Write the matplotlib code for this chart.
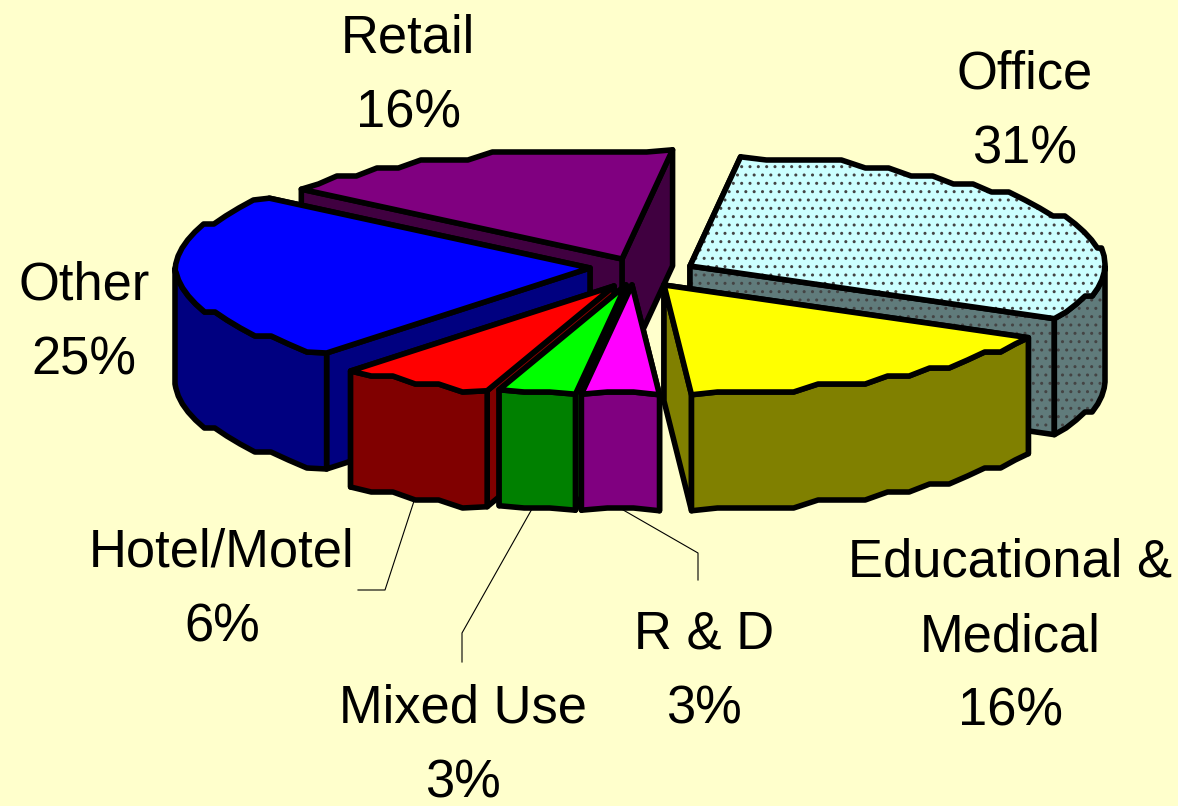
import numpy as np
import matplotlib
matplotlib.use("Agg")
import matplotlib.pyplot as plt
from matplotlib.patches import Polygon

plt.rcParams['font.family'] = ['Liberation Sans', 'DejaVu Sans']
plt.rcParams['hatch.linewidth'] = 1.0

## Chart data, clockwise from the Office slice
categories = ['Office', 'Educational &\nMedical', 'R & D', 'Mixed Use', 'Hotel/Motel', 'Other', 'Retail']
shares = [31, 16, 3, 3, 6, 25, 16]

## Styles
top_colors = ['#CCFFFF', '#FFFF00', '#FF00FF', '#00FF00', '#FF0000', '#0000FF', '#800080']
side_colors = ['#607B7B', '#808000', '#800080', '#008000', '#800000', '#000080', '#400040']
apex_x = [690, 664, 632, 626, 614, 590, 622]
apex_y = [266, 285, 285, 285, 286, 268, 259]
label_x = [1025, 1010, 704, 463, 222, 84, 408]
label_y = [112, 637, 672, 746, 590, 323, 76]
draw_order = [6, 0, 5, 1, 4, 3, 2]

rx, ry, depth = 415, 110, 116
start_angle = 7.0
background = '#FFFFCC'
edge_w = 4.0


def arc_points(cx, cy, a1, a2):
    # outline of the rim, y snapped to a coarse grid to get the stepped look
    n = max(2, int((a2 - a1) / 3.5) + 1)
    t = np.radians(np.linspace(a1, a2, n))
    x = cx + rx * np.sin(t)
    y = cy - ry * np.cos(t)
    y[1:-1] = np.round(y[1:-1] / 8) * 8
    return np.column_stack([x, y])


def draw_shape(ax, pts, color, dotted):
    ax.add_patch(Polygon(pts, closed=True, facecolor=color, edgecolor='none', zorder=ax.z))
    ax.z += 1
    if dotted:
        ax.add_patch(Polygon(pts, closed=True, facecolor='none', edgecolor='#444444',
                             hatch='..', linewidth=0, zorder=ax.z))
        ax.z += 1
    ax.add_patch(Polygon(pts, closed=True, facecolor='none', edgecolor='black',
                         linewidth=edge_w, joinstyle='round', zorder=ax.z))
    ax.z += 1


fig = plt.figure(figsize=(11.78, 8.06), dpi=100, facecolor=background)
ax = fig.add_axes([0, 0, 1, 1])
ax.set_xlim(0, 1178)
ax.set_ylim(806, 0)
ax.axis('off')
ax.z = 3

## slice angles from the shares
sweep = np.array(shares) / sum(shares) * 360
ends = start_angle + np.cumsum(sweep)
starts = ends - sweep

## leader lines
ax.plot([415, 385, 358], [498, 590, 590], color='black', lw=0.8, zorder=2)
ax.plot([537, 462, 462], [500, 633, 662], color='black', lw=0.8, zorder=2)
ax.plot([618, 698, 698], [507, 553, 580], color='black', lw=0.8, zorder=2)

for i in draw_order:
    cx, cy = apex_x[i], apex_y[i]
    a1, a2 = starts[i], ends[i]
    dotted = i == 0
    arc = arc_points(cx, cy, a1, a2)
    down = np.array([0, depth])
    apex = np.array([cx, cy])

    # cut faces, the one further back first
    faces = [np.array([apex, arc[0], arc[0] + down, apex + down]),
             np.array([apex, arc[-1], arc[-1] + down, apex + down])]
    faces.sort(key=lambda f: f[:2, 1].mean())
    for f in faces:
        draw_shape(ax, f, side_colors[i], dotted)

    # outer rim, only the part that faces the viewer
    r1, r2 = max(a1, 90), min(a2, 270)
    if r2 > r1:
        rim = arc_points(cx, cy, r1, r2)
        draw_shape(ax, np.vstack([rim, (rim + down)[::-1]]), side_colors[i], dotted)

    # top face
    draw_shape(ax, np.vstack([apex, arc]), top_colors[i], dotted)

for i in range(len(categories)):
    ax.text(label_x[i], label_y[i], categories[i] + '\n' + str(shares[i]) + '%', ha='center', va='center',
            fontsize=37.8, color='black', linespacing=1.63, zorder=100)

fig.savefig('out.png', dpi=100, facecolor=background)
